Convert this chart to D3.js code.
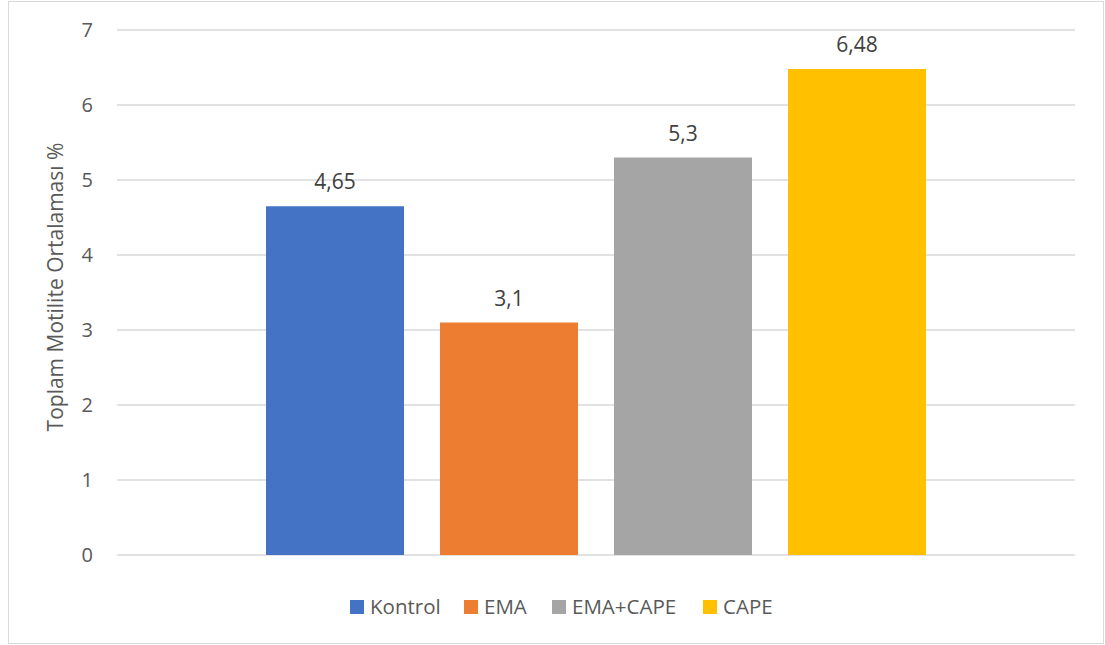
<!DOCTYPE html>
<html><head><meta charset="utf-8">
<script src="https://cdn.jsdelivr.net/npm/d3@7"></script>
<style>body{margin:0;background:#fff;}svg{display:block;font-family:"Open Sans",sans-serif;}</style>
</head><body>
<svg id="c" width="1105" height="645"></svg>
<script>
const categories = ["Kontrol", "EMA", "EMA+CAPE", "CAPE"];
const values = [4.65, 3.1, 5.3, 6.48];
const valueLabels = ["4,65", "3,1", "5,3", "6,48"];
const colors = ["#4472C4", "#ED7D31", "#A5A5A5", "#FFC000"];
const yTicks = [0, 1, 2, 3, 4, 5, 6, 7];
const yTitle = "Toplam Motilite Ortalaması %";

(function () {
const svg = d3.select("#c");
svg.append("rect").attr("x", 8.5).attr("y", 1.5).attr("width", 1095).attr("height", 642)
  .attr("fill", "#fff").attr("stroke", "#d9d9d9").attr("stroke-width", 1);

const pL = 117, pR = 1075, pT = 30, pB = 555;
const y = d3.scaleLinear().domain([0, 7]).range([pB, pT]);
const outer = d3.scaleBand().domain(["g"]).range([pL, pR]).paddingInner(0).paddingOuter(0.2258);
const x = d3.scaleBand().domain(categories).range([outer("g"), outer("g") + outer.bandwidth()]).paddingInner(0.2069).paddingOuter(0);

svg.append("g").selectAll("line").data(yTicks).join("line")
  .attr("x1", pL).attr("x2", pR)
  .attr("y1", d => y(d)).attr("y2", d => y(d))
  .attr("stroke", "#d9d9d9").attr("stroke-width", 1.3);

const yAxis = d3.axisLeft(y).tickValues(yTicks).tickSize(0).tickPadding(0).tickFormat(d3.format("d"));
const ga = svg.append("g").attr("transform", `translate(93,0)`).call(yAxis);
ga.select(".domain").remove();
ga.selectAll("text").attr("fill", "#595959").attr("font-size", 20).attr("font-family", "Open Sans");

svg.append("g").selectAll("rect").data(values).join("rect")
  .attr("x", (d, i) => x(categories[i])).attr("width", x.bandwidth())
  .attr("y", d => y(d)).attr("height", d => y(0) - y(d))
  .attr("fill", (d, i) => colors[i]);

svg.append("g").selectAll("text").data(values).join("text")
  .attr("x", (d, i) => x(categories[i]) + x.bandwidth() / 2)
  .attr("y", d => y(d) - 17)
  .attr("text-anchor", "middle").attr("font-size", 21).attr("fill", "#404040")
  .text((d, i) => valueLabels[i]);

svg.append("text").attr("transform", "translate(63,287) rotate(-90)")
  .attr("text-anchor", "middle").attr("font-size", 21).attr("fill", "#595959").text(yTitle);

const legX = [350, 464, 552, 703];
const lg = svg.append("g").selectAll("g").data(categories).join("g")
  .attr("transform", (d, i) => `translate(${legX[i]},600)`);
lg.append("rect").attr("width", 14).attr("height", 14).attr("fill", (d, i) => colors[i]);
lg.append("text").attr("x", 20).attr("y", 13.5).attr("font-size", 20.5).attr("fill", "#595959").text(d => d);
})();
</script>
</body></html>
